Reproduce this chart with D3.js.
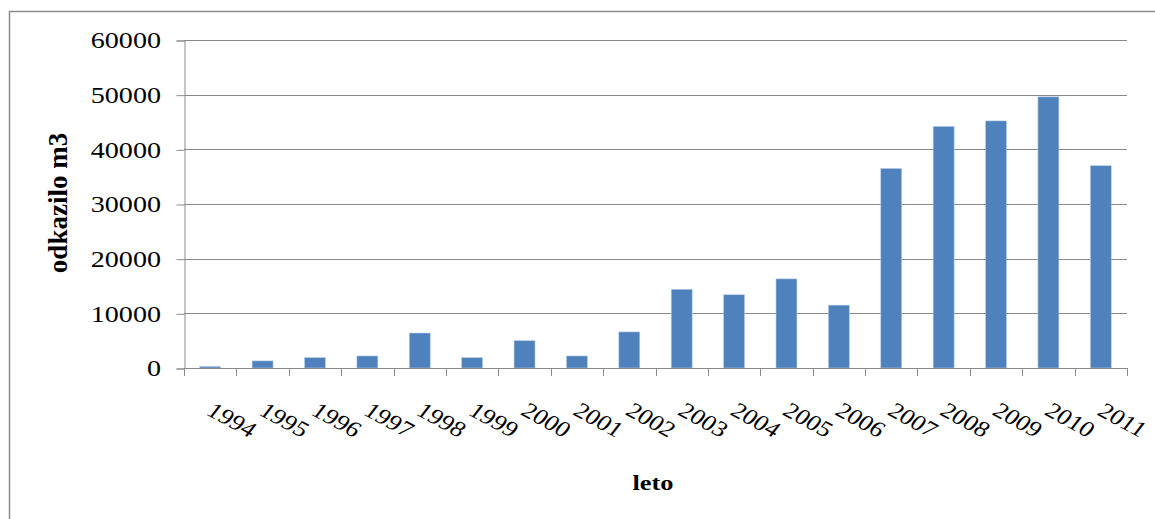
<!DOCTYPE html>
<html>
<head>
<meta charset="utf-8">
<script src="https://cdn.jsdelivr.net/npm/d3@7"></script>
<style>
  body { margin: 0; background: #fff; }
  svg { display: block; }
  text { font-family: "Liberation Serif", "Times New Roman", serif; fill: #000; }
</style>
</head>
<body>
<svg id="chart"></svg>
<script>
var years = ['1994', '1995', '1996', '1997', '1998', '1999', '2000', '2001', '2002',
             '2003', '2004', '2005', '2006', '2007', '2008', '2009', '2010', '2011'];
var values = [300, 1300, 1900, 2200, 6400, 1900, 5000, 2200, 6600,
              14400, 13400, 16300, 11500, 36500, 44200, 45200, 49600, 37000];
var yTicks = [0, 10000, 20000, 30000, 40000, 50000, 60000];

var width = 1155,
    height = 519,
    margin = {top: 40, right: 28, bottom: 151, left: 184};

// the original picture is stretched a bit sideways, text included
var stretch = 1.2;

var svg = d3.select('#chart')
    .attr('width', width)
    .attr('height', height);

// outer chart frame
svg.append('rect')
    .attr('x', 9.5).attr('y', 11.5)
    .attr('width', width + 20).attr('height', height + 20)
    .attr('fill', 'none')
    .attr('stroke', '#8c8c8c')
    .attr('stroke-width', 1.5);

var x = d3.scaleBand()
    .domain(years)
    .range([margin.left, width - margin.right])
    .paddingInner(0.6)
    .paddingOuter(0.3);

var y = d3.scaleLinear()
    .domain([0, 60000])
    .range([height - margin.bottom, margin.top]);

// gridlines
svg.append('g')
  .selectAll('line')
  .data(yTicks)
  .enter()
  .append('line')
    .attr('x1', margin.left)
    .attr('x2', width - margin.right)
    .attr('y1', function(d) { return Math.round(y(d)) + 0.5; })
    .attr('y2', function(d) { return Math.round(y(d)) + 0.5; })
    .attr('stroke', '#8a8a8a')
    .attr('stroke-width', 1);

// y axis
var yAxis = svg.append('g')
    .attr('transform', 'translate(' + (margin.left + 0.5) + ',0.5)')
    .call(d3.axisLeft(y).tickValues(yTicks).tickSize(8).tickFormat(d3.format('d')));
yAxis.selectAll('.domain, .tick line').attr('stroke', '#8a8a8a');
yAxis.selectAll('text')
    .attr('x', -23.5 / 1.25)
    .attr('transform', 'scale(1.25,1)')
    .style('font-family', '"Liberation Serif", "Times New Roman", serif')
    .style('font-size', '22.5px')
    .style('fill', '#000');

// bars
svg.append('g')
  .selectAll('rect')
  .data(values)
  .enter()
  .append('rect')
    .attr('x', function(d, i) { return x(years[i]); })
    .attr('y', function(d) { return y(d); })
    .attr('width', x.bandwidth())
    .attr('height', function(d) { return y(0) - y(d); })
    .attr('fill', '#4f81bd')
    .attr('stroke', '#b9cde5')
    .attr('stroke-width', 0.6);

// x axis line and category boundary ticks
var bounds = d3.range(years.length + 1).map(function(i) {
  return margin.left + i * (width - margin.right - margin.left) / years.length;
});
var xg = svg.append('g');
xg.append('line')
    .attr('x1', margin.left).attr('x2', width - margin.right)
    .attr('y1', Math.round(y(0)) + 0.5).attr('y2', Math.round(y(0)) + 0.5)
    .attr('stroke', '#8a8a8a');
xg.selectAll('.bt')
  .data(bounds)
  .enter()
  .append('line')
    .attr('x1', function(d) { return Math.round(d) + 0.5; })
    .attr('x2', function(d) { return Math.round(d) + 0.5; })
    .attr('y1', Math.round(y(0)))
    .attr('y2', Math.round(y(0)) + 8)
    .attr('stroke', '#8a8a8a');

xg.selectAll('text')
  .data(years)
  .enter()
  .append('text')
    .attr('transform', function(d) {
      return 'translate(' + (x(d) + x.bandwidth() / 2 + 17) + ',' + (y(0) + 58) + ') scale(' + stretch + ',1) rotate(33)';
    })
    .attr('text-anchor', 'middle')
    .style('font-size', '22px')
    .text(function(d) { return d; });

// axis titles
svg.append('text')
    .attr('transform', 'translate(67,203) rotate(-90)')
    .attr('text-anchor', 'middle')
    .style('font-size', '27px')
    .style('font-weight', 'bold')
    .text('odkazilo m3');

svg.append('text')
    .attr('transform', 'translate(653,490) scale(' + stretch + ',1)')
    .attr('text-anchor', 'middle')
    .style('font-size', '22px')
    .style('font-weight', 'bold')
    .text('leto');
</script>
</body>
</html>
